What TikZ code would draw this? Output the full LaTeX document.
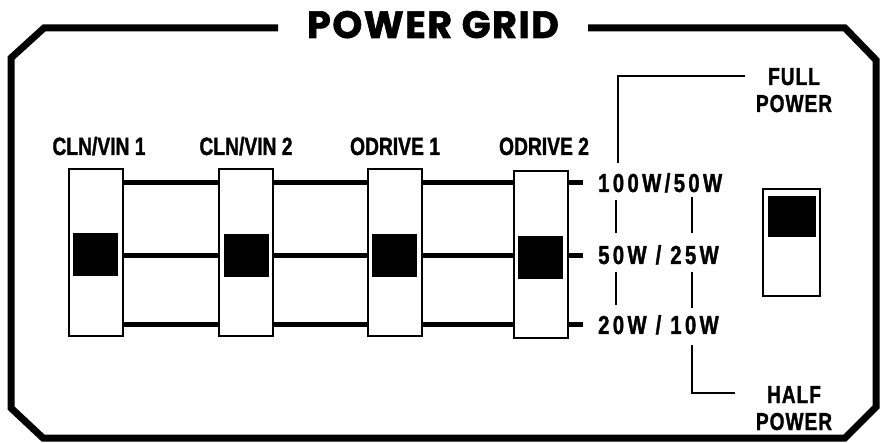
\documentclass[tikz,border=0pt]{standalone}
\usepackage{fontspec}
\newfontfamily\titlefont{Poppins}[UprightFont=* Bold,FakeBold=1.6,LetterSpace=4]
\newfontfamily\cond{Liberation Sans}[UprightFont=* Bold,FakeStretch=0.77,FakeBold=1.3]
\newfontfamily\condv{Liberation Sans}[UprightFont=* Bold,FakeStretch=0.78,FakeBold=1.3,LetterSpace=13]
\newfontfamily\conds{Liberation Sans}[UprightFont=* Bold,FakeStretch=0.78,FakeBold=1.3,LetterSpace=4]
\begin{document}
\begin{tikzpicture}[x=1pt,y=-1pt,
  frame/.style={line width=7pt,line join=miter},
  slot/.style={draw,line width=2pt,fill=white,minimum width=54pt,minimum height=167pt,inner sep=0pt},
  knob/.style={fill=black,minimum width=45pt,minimum height=43pt,inner sep=0pt},
  rail/.style={line width=5pt},
  thin/.style={line width=2.2pt},
  lbl/.style={font=\cond\fontsize{25}{26}\selectfont,inner sep=0pt},
  val/.style={font=\condv\fontsize{26}{28}\selectfont,inner sep=0pt,anchor=base west},
  side/.style={font=\conds\fontsize{24.5}{27}\selectfont,inner sep=0pt,align=center}]
\useasboundingbox (0,0) rectangle (883,443);
% frame
\draw[frame] (278,28) -- (44,28) -- (11,58) -- (11,408) -- (43,438) -- (845,438) -- (876,407) -- (876,60) -- (845,28) -- (588,28);
\node[font=\titlefont\fontsize{38}{40}\selectfont,inner sep=0pt,anchor=base] (title) at (433,38) {POWER GRID};
% rows
\coordinate (r1) at (583,183);
\coordinate (r2) at (583,255.5);
\coordinate (r3) at (583,324.5);
% slots
\node[slot] (s1) at (96,252.5) {};
\node[slot] (s2) at (246,252.5) {};
\node[slot] (s3) at (394.5,252.5) {};
\node[slot] (s4) at (540.5,254.5) {};
\foreach \r in {r1,r2,r3}{
  \draw[rail] (s1.east |- \r) -- (s2.west |- \r);
  \draw[rail] (s2.east |- \r) -- (s3.west |- \r);
  \draw[rail] (s3.east |- \r) -- (s4.west |- \r);
  \draw[rail] (s4.east |- \r) -- (\r);
}
\node[knob] (k1) at (95.5,254.5) {};
\node[knob] (k2) at (246,255.5) {};
\node[knob] (k3) at (394,255.5) {};
\node[knob] (k4) at (540,258) {};
% labels
\node[lbl,anchor=base] (l1) at (99,155) {CLN/VIN 1};
\node[lbl,anchor=base] (l2) at (246,155) {CLN/VIN 2};
\node[lbl,anchor=base] (l3) at (395,155) {ODRIVE 1};
\node[lbl,anchor=base] (l4) at (544,155) {ODRIVE 2};
% values
\node[val] (v1) at (598,192) {100W/50W};
\node[val] (v2) at (598,264) {50W / 25W};
\node[val] (v3) at (598,334) {20W / 10W};
% side labels
\node[side,anchor=base] (full) at (794,112) {FULL\\POWER};
\node[side,anchor=base] (half) at (794,430) {HALF\\POWER};
\coordinate (fa) at (745,76);
\coordinate (fb) at (618,163);
\coordinate (ha) at (692,345);
\coordinate (hb) at (735,393);
\draw[thin] (fa) -- (fb |- fa) -- (fb);
\draw[thin] (ha) -- (ha |- hb) -- (hb);
\coordinate (a1) at (616,200); \coordinate (a2) at (616,233);
\coordinate (a3) at (616,272); \coordinate (a4) at (616,305);
\coordinate (b1) at (692,197); \coordinate (b2) at (692,233);
\coordinate (b3) at (692,272); \coordinate (b4) at (692,308);
\draw[thin] (a1) -- (a2) (a3) -- (a4) (b1) -- (b2) (b3) -- (b4);
% switch
\node[draw,line width=2pt,fill=white,minimum width=57pt,minimum height=107pt,inner sep=0pt] (sw) at (791.5,242.5) {};
\node[fill=black,minimum width=48pt,minimum height=41pt,inner sep=0pt] (swk) at (792,216.5) {};
\end{tikzpicture}
\end{document}
